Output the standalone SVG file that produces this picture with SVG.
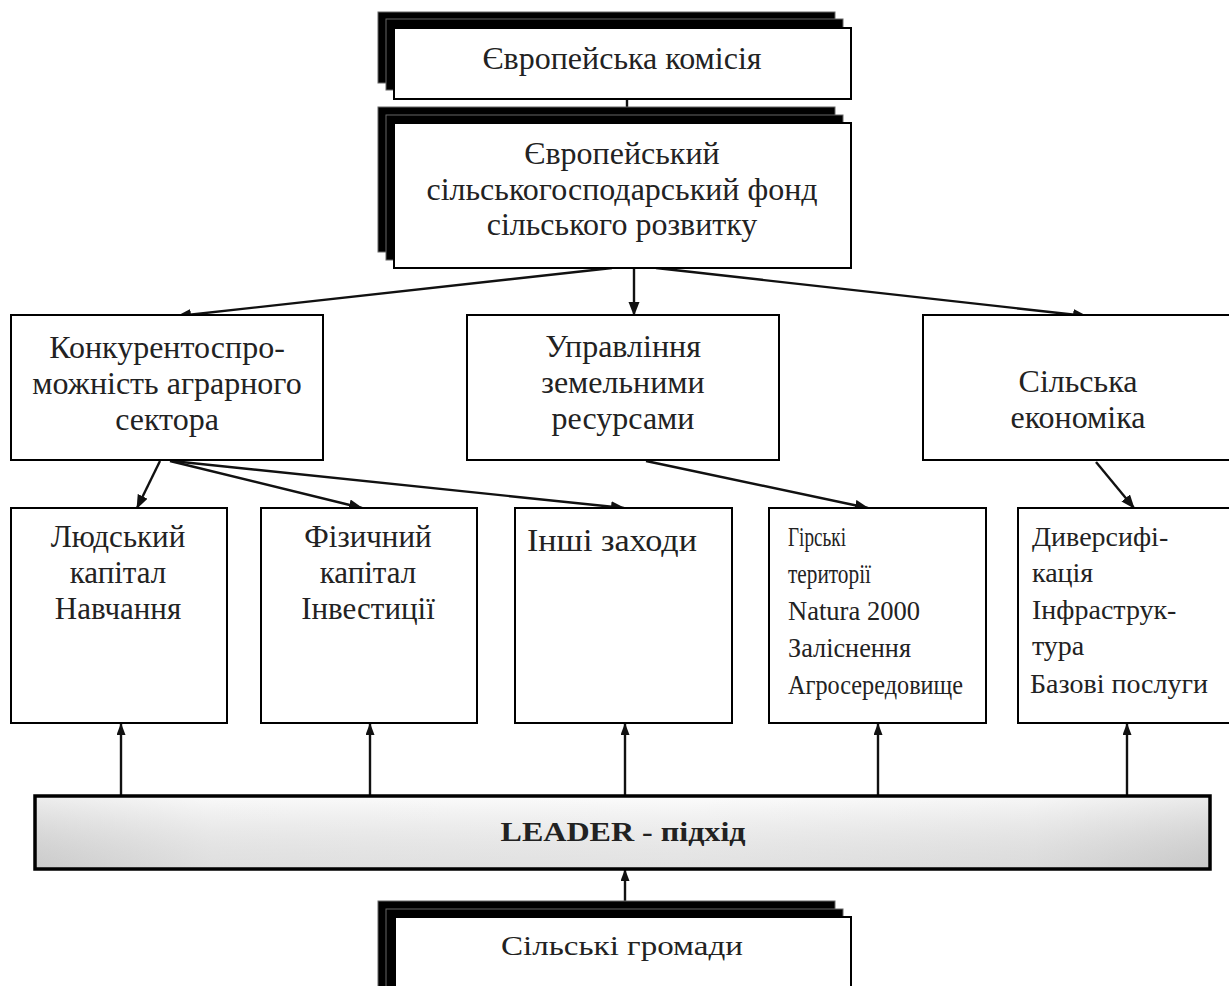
<svg xmlns="http://www.w3.org/2000/svg" width="1229" height="986" viewBox="0 0 1229 986">
<style>
.box{fill:#fff;stroke:#000;stroke-width:2}
.back{fill:#000;stroke:#666;stroke-width:1}
.t{font-family:"Liberation Serif","Times New Roman",serif;fill:#222}
.c{text-anchor:middle}
.f32{font-size:32px}
.f31{font-size:31px}
.f28{font-size:28px}
.conn{stroke:#111;stroke-width:2.4;fill:none}
</style>
<defs>
<marker id="ah" markerUnits="userSpaceOnUse" markerWidth="14" markerHeight="12" refX="13" refY="5.5" orient="auto">
<path d="M0,0 L14,5.5 L0,11 Z" fill="#111"/>
</marker>
<marker id="ahs" markerUnits="userSpaceOnUse" markerWidth="12" markerHeight="10" refX="11" refY="4.5" orient="auto">
<path d="M0,0 L12,4.5 L0,9 Z" fill="#111"/>
</marker>
<linearGradient id="lg" x1="0" y1="0" x2="1" y2="0">
<stop offset="0" stop-color="#d4d4d4"/>
<stop offset="0.15" stop-color="#f2f2f2"/>
<stop offset="0.55" stop-color="#f8f8f8"/>
<stop offset="0.85" stop-color="#ececec"/>
<stop offset="1" stop-color="#cfcfcf"/>
</linearGradient>
<linearGradient id="lgv" x1="0" y1="0" x2="0" y2="1">
<stop offset="0" stop-color="#fff" stop-opacity="0.6"/>
<stop offset="1" stop-color="#bbb" stop-opacity="0.35"/>
</linearGradient>
</defs>
<rect width="1229" height="986" fill="#fff"/>

<g id="connectors">
<line class="conn" x1="627" y1="99" x2="627" y2="107"/>
<line class="conn" x1="612" y1="268" x2="178" y2="316" marker-end="url(#ah)"/>
<line class="conn" x1="634" y1="268" x2="634" y2="315" marker-end="url(#ah)"/>
<line class="conn" x1="656" y1="268" x2="1086" y2="316" marker-end="url(#ah)"/>
<line class="conn" x1="160" y1="461" x2="137" y2="508" marker-end="url(#ah)"/>
<line class="conn" x1="170" y1="461" x2="362" y2="508" marker-end="url(#ah)"/>
<line class="conn" x1="172" y1="461" x2="624" y2="508" marker-end="url(#ah)"/>
<line class="conn" x1="646" y1="461" x2="868" y2="508" marker-end="url(#ah)"/>
<line class="conn" x1="1096" y1="462" x2="1134" y2="508" marker-end="url(#ah)"/>
<line class="conn" x1="121" y1="796" x2="121" y2="724" marker-end="url(#ahs)"/>
<line class="conn" x1="370" y1="796" x2="370" y2="724" marker-end="url(#ahs)"/>
<line class="conn" x1="625" y1="796" x2="625" y2="724" marker-end="url(#ahs)"/>
<line class="conn" x1="878" y1="796" x2="878" y2="724" marker-end="url(#ahs)"/>
<line class="conn" x1="1127" y1="796" x2="1127" y2="724" marker-end="url(#ahs)"/>
<line class="conn" x1="625" y1="917" x2="625" y2="870" marker-end="url(#ahs)"/>
</g>

<g id="n-commission">
<rect class="back" x="378" y="12" width="457" height="71"/>
<rect class="back" x="386" y="19" width="457" height="71"/>
<rect class="box" x="394" y="28" width="457" height="71"/>
<text class="t c f32" x="622" y="69">Європейська комісія</text>
</g>

<g id="n-fund">
<rect class="back" x="378" y="107" width="457" height="145"/>
<rect class="back" x="386" y="115" width="457" height="145"/>
<rect class="box" x="394" y="123" width="457" height="145"/>
<text class="t c f32" x="622" y="164">Європейський</text>
<text class="t c f32" x="622" y="200">сільськогосподарський фонд</text>
<text class="t c f32" x="622" y="235">сільського розвитку</text>
</g>

<g id="n-compet">
<rect class="box" x="11" y="315" width="312" height="145"/>
<text class="t c f32" x="167" y="358">Конкурентоспро-</text>
<text class="t c f32" x="167" y="394">можність аграрного</text>
<text class="t c f32" x="167" y="430">сектора</text>
</g>

<g id="n-land">
<rect class="box" x="467" y="315" width="312" height="145"/>
<text class="t c f32" x="623" y="357">Управління</text>
<text class="t c f32" x="623" y="393">земельними</text>
<text class="t c f32" x="623" y="429">ресурсами</text>
</g>

<g id="n-rural">
<rect class="box" x="923" y="315" width="312" height="145"/>
<text class="t c f32" x="1078" y="392">Сільська</text>
<text class="t c f32" x="1078" y="428">економіка</text>
</g>

<g id="n-human">
<rect class="box" x="11" y="508" width="216" height="215"/>
<text class="t c f31" x="118" y="547">Людський</text>
<text class="t c f31" x="118" y="583">капітал</text>
<text class="t c f31" x="118" y="619">Навчання</text>
</g>

<g id="n-phys">
<rect class="box" x="261" y="508" width="216" height="215"/>
<text class="t c f31" x="368" y="547">Фізичний</text>
<text class="t c f31" x="368" y="583">капітал</text>
<text class="t c f31" x="368" y="619">Інвестиції</text>
</g>

<g id="n-other">
<rect class="box" x="515" y="508" width="217" height="215"/>
<text class="t f31" x="527" y="551" textLength="170" lengthAdjust="spacingAndGlyphs">Інші заходи</text>
</g>

<g id="n-mount">
<rect class="box" x="769" y="508" width="217" height="215"/>
<text class="t f28" x="788" y="546" textLength="58" lengthAdjust="spacingAndGlyphs">Гірські</text>
<text class="t f28" x="788" y="583" textLength="83" lengthAdjust="spacingAndGlyphs">території</text>
<text class="t f28" x="788" y="620" textLength="132" lengthAdjust="spacingAndGlyphs">Natura 2000</text>
<text class="t f28" x="788" y="657" textLength="123" lengthAdjust="spacingAndGlyphs">Заліснення</text>
<text class="t f28" x="788" y="694" textLength="175" lengthAdjust="spacingAndGlyphs">Агросередовище</text>
</g>

<g id="n-divers">
<rect class="box" x="1018" y="508" width="217" height="215"/>
<text class="t f28" x="1032" y="546">Диверсифі-</text>
<text class="t f28" x="1032" y="582">кація</text>
<text class="t f28" x="1032" y="619">Інфраструк-</text>
<text class="t f28" x="1032" y="655">тура</text>
<text class="t f28" x="1030" y="693" textLength="178" lengthAdjust="spacingAndGlyphs">Базові послуги</text>
</g>

<g id="n-leader">
<rect x="35" y="796" width="1175" height="73" fill="url(#lg)" stroke="none"/>
<rect x="35" y="796" width="1175" height="73" fill="url(#lgv)" stroke="#000" stroke-width="3.5"/>
<text class="t c" x="623" y="841" font-size="27" font-weight="bold" textLength="245" lengthAdjust="spacingAndGlyphs">LEADER - підхід</text>
</g>

<g id="n-communities">
<rect class="back" x="378" y="901" width="457" height="100"/>
<rect class="back" x="386" y="909" width="457" height="100"/>
<rect class="box" x="395" y="917" width="456" height="90"/>
<text class="t c" x="622" y="955" font-size="28" textLength="242" lengthAdjust="spacingAndGlyphs">Сільські громади</text>
</g>
</svg>
